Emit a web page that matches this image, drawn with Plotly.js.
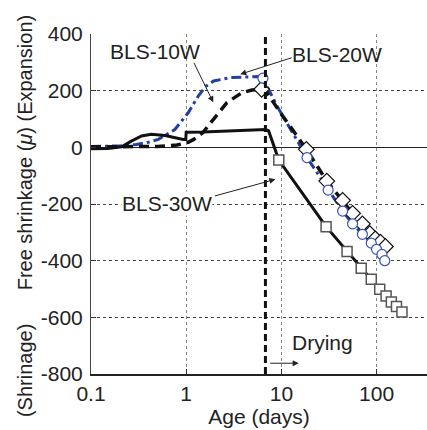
<!DOCTYPE html>
<html>
<head>
<meta charset="utf-8">
<script src="https://cdn.plot.ly/plotly-3.0.1.min.js"></script>
<style>html,body{margin:0;padding:0;background:#fff;}#chart{width:427px;height:430px;}</style>
</head>
<body>
<div id="chart"></div>
<script>
// ---- data (age in days, free shrinkage in micro-strain) ----
const age30Line = [0.1,0.15,0.21,0.265,0.34,0.43,0.6,0.76,0.93,0.99,1.0,1.5,3,5,6.8,7.35,9.4,29.5,49,69,88];
const val30Line = [-5,-4,2,22,40,46,42,34,28,28,53,54,57,60,63,58,-45,-280,-368,-427,-466];
const age30Mk = [9.4,29.5,49,69,88,108,126,143,162,185];
const val30Mk = [-45,-280,-368,-427,-466,-501,-525,-546,-562,-581];

const age10Line = [0.1,0.3,0.5,0.8,0.97,1.05,1.2,1.5,1.79,2.1,2.68,3.86,4.9,6.2,6.8,7.06,9.76,14.6,18.3,30,44,56];
const val10Line = [2,3,3,8,16,18,28,52,85,115,158,193,202,205,203,193,122,40,-7,-119,-187,-233];
const age10Mk = [6.2,18.3,30,44,56,71,85,97,110,124];
const val10Mk = [205,-7,-119,-187,-233,-270,-305,-323,-335,-350];

const age20Line = [0.1,0.2,0.3,0.4,0.51,0.76,1.05,1.34,1.6,1.94,2.9,4.5,6.0,6.4,7.06,9.0,18.6,31,44,56,71,88,100,114,122];
const val20Line = [3,5,10,18,28,63,122,181,215,234,246,250,250,244,214,146,-36,-151,-225,-270,-307,-338,-360,-378,-400];
const age20Mk = [6.4,18.6,31,44,56,71,88,100,114,122];
const val20Mk = [244,-36,-151,-225,-270,-307,-338,-360,-378,-400];

const dryingAge = 6.8;
const xTickVals = [0.1,1,10,100];
const xTickText = ['0.1','1','10','100'];
const yTickVals = [-800,-600,-400,-200,0,200,400];
const yTickText = ['-800','-600','-400','-200','0','200','400'];

const BLUE = '#2340a0';
const FONT = 'Liberation Sans, Arial, Helvetica, sans-serif';
const TXT = '#222';
const NB = '\u00a0';
const yTitle = '(Shrinage)' + NB.repeat(6) + 'Free shrinkage (<i>\u03bc</i>)' + NB + '(Expansion)';

const traces = [
  {x: age20Line, y: val20Line, mode: 'lines', line: {color: BLUE, width: 3, dash: '10px,4px,3px,4px'}, hoverinfo: 'skip'},
  {x: age10Line, y: val10Line, mode: 'lines', line: {color: '#111', width: 3.5, dash: '10px,6px'}, hoverinfo: 'skip'},
  {x: age30Line, y: val30Line, mode: 'lines', line: {color: '#111', width: 3}, hoverinfo: 'skip'},
  {x: age30Mk, y: val30Mk, mode: 'markers', marker: {symbol: 'square', size: 10, color: '#fff', line: {color: '#555', width: 1.5}}},
  {x: age10Mk, y: val10Mk, mode: 'markers', marker: {symbol: 'diamond', size: 12, color: '#fff', line: {color: '#111', width: 1.2}}},
  {x: age20Mk, y: val20Mk, mode: 'markers', marker: {symbol: 'circle', size: 10, color: '#fff', line: {color: '#3a52b5', width: 1.2}}}
];

const arrowBase = {text: '', showarrow: true, arrowhead: 2, arrowsize: 1.2, arrowwidth: 1, arrowcolor: '#222', xref: 'x', yref: 'y'};
const labelBase = {showarrow: false, xref: 'x', yref: 'y', font: {family: FONT, size: 21, color: TXT}};

const layout = {
  width: 427, height: 430,
  margin: {l: 91, r: 0, t: 34, b: 56},
  paper_bgcolor: '#fff', plot_bgcolor: '#fff',
  showlegend: false,
  font: {family: FONT, size: 21, color: TXT},
  xaxis: {
    type: 'log', range: [-1, 2.53],
    tickvals: xTickVals, ticktext: xTickText,
    ticks: 'inside', ticklen: 5, tickcolor: '#333',
    showgrid: true, gridcolor: '#888', griddash: 'dot', gridwidth: 1,
    showline: true, linecolor: '#222', linewidth: 1.5,
    zeroline: false,
    tickfont: {family: FONT, size: 21, color: TXT},
    title: {text: 'Age (days)', font: {family: FONT, size: 21, color: TXT}, standoff: 0}
  },
  yaxis: {
    range: [-800, 400],
    tickvals: yTickVals, ticktext: yTickText,
    ticks: 'inside', ticklen: 5, tickcolor: '#333',
    showgrid: true, gridcolor: '#444', griddash: 'dot', gridwidth: 1,
    showline: true, linecolor: '#444', linewidth: 1,
    zeroline: true, zerolinecolor: '#222', zerolinewidth: 1,
    tickfont: {family: FONT, size: 21, color: TXT},
    ticklabelstandoff: 3
  },
  shapes: [
    {type: 'line', xref: 'x', yref: 'paper', x0: dryingAge, x1: dryingAge, y0: 0, y1: 1, line: {color: '#111', width: 3, dash: '7px,4px'}}
  ],
  annotations: [
    {text: yTitle, textangle: -90, showarrow: false, xref: 'paper', yref: 'paper', x: -0.196, y: 0.465, xanchor: 'center', yanchor: 'middle', font: {family: FONT, size: 20, color: TXT}},
    Object.assign({}, labelBase, {text: 'BLS-10W', x: -0.326, y: 339}),
    Object.assign({}, labelBase, {text: 'BLS-20W', x: 1.589, y: 328}),
    Object.assign({}, labelBase, {text: 'BLS-30W', x: -0.2, y: -198, bgcolor: '#fff', borderpad: 0}),
    Object.assign({}, labelBase, {text: 'Drying', x: 1.432, y: -688}),
    Object.assign({}, arrowBase, {x: 0.284, y: 159, ax: -20, ay: -41}),
    Object.assign({}, arrowBase, {x: 0.568, y: 258, ax: 53, ay: -17}),
    Object.assign({}, arrowBase, {x: 0.937, y: -113, ax: -62, ay: 17}),
    Object.assign({}, arrowBase, {x: 1.182, y: -762, ax: -30, ay: 0})
  ]
};

Plotly.newPlot('chart', traces, layout, {staticPlot: true, displayModeBar: false});
</script>
</body>
</html>
